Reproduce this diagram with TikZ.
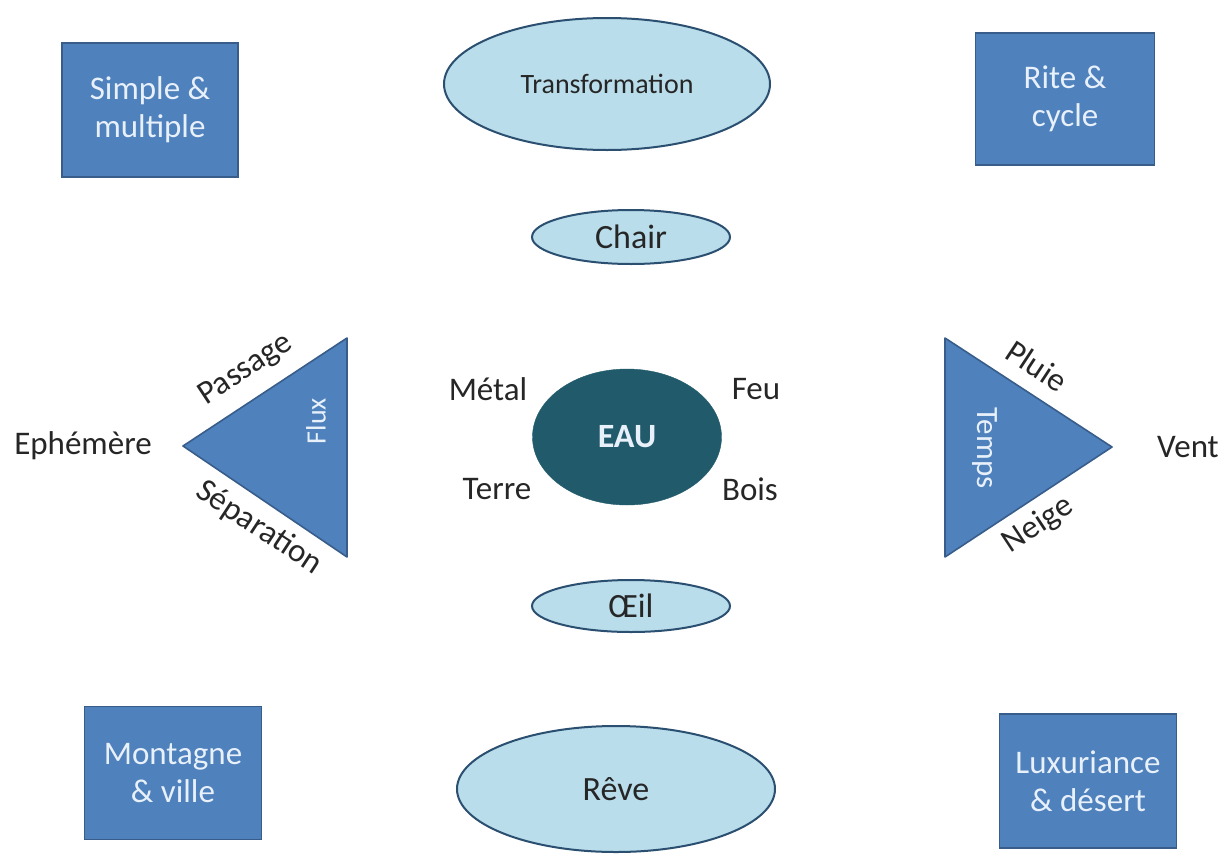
\documentclass[tikz,border=0pt]{standalone}
\usepackage{fontspec}
\setmainfont{Carlito}
\usetikzlibrary{shapes.geometric}

\definecolor{boxblue}{HTML}{4F81BD}
\definecolor{boxline}{HTML}{385D8A}
\definecolor{lightfill}{HTML}{B9DDEA}
\definecolor{ellline}{HTML}{2B4F70}
\definecolor{eauteal}{HTML}{215A6B}
\definecolor{paletext}{HTML}{E8F0FA}

\begin{document}
\begin{tikzpicture}[x=1pt, y=-1pt,
  word/.style={font=\fontsize{33}{38}\selectfont, inner sep=0pt, text=black!85},
  corner/.style={rectangle, draw=boxline, fill=boxblue, line width=1.6pt, align=center,
    text=paletext, font=\fontsize{33}{38}\selectfont, inner sep=0pt},
  oval/.style={ellipse, draw=ellline, fill=lightfill, line width=2pt, inner sep=0pt,
    font=\fontsize{34}{38}\selectfont, text=black!85},
  tri/.style={draw=boxline, fill=boxblue, line width=1.6pt, line join=round},
  side/.style={font=\fontsize{28}{32}\selectfont, text=paletext, inner sep=0pt}
]
\useasboundingbox (0,0) rectangle (1231,854);
% corner boxes
\node[corner, minimum width=176pt, minimum height=134pt] (simple) at (150,110) {Simple \&\\multiple};
\node[corner, minimum width=179pt, minimum height=132pt] (rite) at (1065,99) {Rite \&\\cycle};
\node[corner, minimum width=177pt, minimum height=133pt] (montagne) at (173,773) {Montagne\\\& ville};
\node[corner, minimum width=177pt, minimum height=134pt] (luxe) at (1088,781) {Luxuriance\\\& d\'esert};
% ovals on the middle axis
\node[oval, minimum width=326pt, minimum height=132pt, font=\fontsize{28}{32}\selectfont] (transfo) at (607,84) {Transformation};
\node[oval, minimum width=198pt, minimum height=54pt] (chair) at (631,237) {Chair};
\node[oval, minimum width=198pt, minimum height=52pt] (oeil) at (631,606) {Œil};
\node[oval, minimum width=318pt, minimum height=126pt] (reve) at (616,789) {Rêve};
\node[ellipse, fill=eauteal, draw=eauteal, minimum width=189pt, minimum height=136pt, inner sep=0pt,
  text=paletext, font=\fontsize{34}{38}\selectfont\bfseries] (eau) at (627,437) {EAU};
\node[word] (metal) at (488,389) {Métal};
\node[word] (feu) at (756,389) {Feu};
\node[word] (terre) at (497,489) {Terre};
\node[word] (bois) at (750,489) {Bois};
% left triangle
\draw[tri] (183,446) -- (347,338) -- (347,557) -- cycle;
\node[side, rotate=90] (flux) at (316,421) {Flux};
\node[word, rotate=33.4] (passage) at (246,370) {Passage};
\node[word, rotate=-33.4] (separation) at (259,528) {Séparation};
\node[word] (ephemere) at (83,446) {Ephémère};
% right triangle
\draw[tri] (945,338) -- (1112,447) -- (945,557) -- cycle;
\node[side, rotate=-90, font=\fontsize{31}{34}\selectfont] (temps) at (985,448) {Temps};
\node[word, rotate=-33.4] (pluie) at (1037,366) {Pluie};
\node[word, rotate=33.4] (neige) at (1038,525) {Neige};
\node[word] (vent) at (1188,447) {Vent};
\end{tikzpicture}
\end{document}
